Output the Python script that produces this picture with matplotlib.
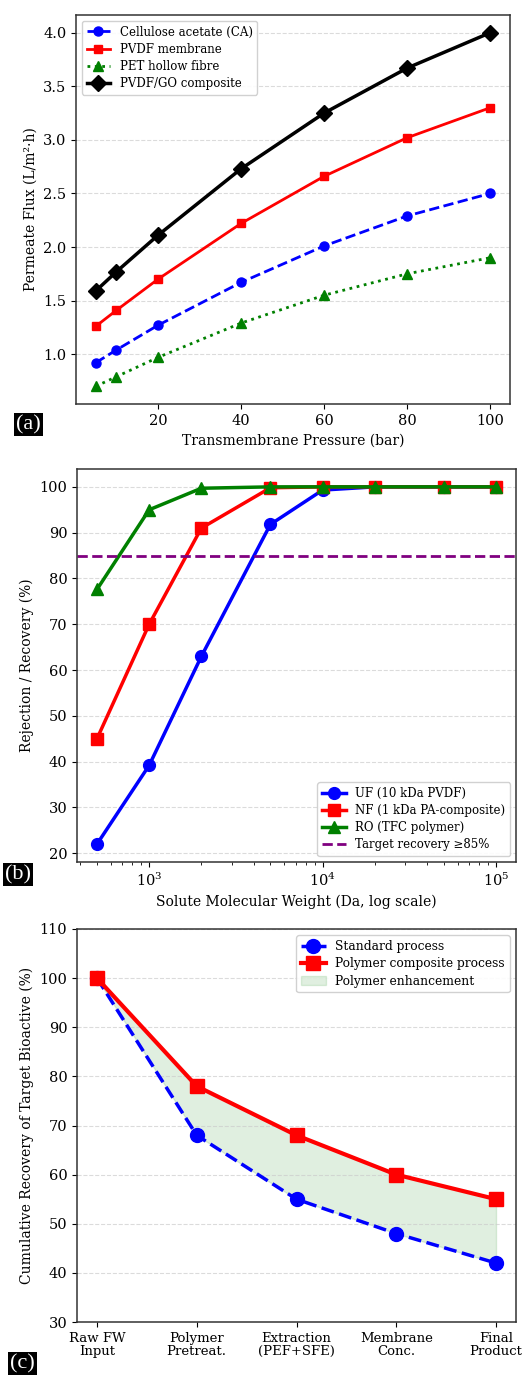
import numpy as np
import matplotlib.pyplot as plt

plt.rcParams['font.family'] = 'DejaVu Serif'

# (a) flux vs pressure
pressure = [5, 10, 20, 40, 60, 80, 100]
flux_ca = [0.92, 1.04, 1.27, 1.67, 2.01, 2.29, 2.50]
flux_pvdf = [1.26, 1.41, 1.70, 2.22, 2.66, 3.02, 3.30]
flux_pet = [0.70, 0.79, 0.97, 1.29, 1.55, 1.75, 1.90]
flux_go = [1.59, 1.77, 2.11, 2.73, 3.25, 3.67, 4.00]

# (b) rejection vs molecular weight
mw = [500, 1000, 2000, 5000, 10000, 20000, 50000, 100000]
rej_uf = [22, 39.2, 63, 91.8, 99.3, 100, 100, 100]
rej_nf = [45, 70, 91, 99.8, 100, 100, 100, 100]
rej_ro = [77.6, 95, 99.7, 100, 100, 100, 100, 100]
target = 85

# (c) cumulative recovery
stages = ['Raw FW\nInput', 'Polymer\nPretreat.', 'Extraction\n(PEF+SFE)', 'Membrane\nConc.', 'Final\nProduct']
rec_std = [100, 68, 55, 48, 42]
rec_poly = [100, 78, 68, 60, 55]

W, H = 528, 1379
fig = plt.figure(figsize=(W / 100, H / 100), dpi=100)

def box(l, t, r, b):
    return [l / W, 1 - b / H, (r - l) / W, (b - t) / H]

def style(ax):
    for s in ax.spines.values():
        s.set_color('#333333')
        s.set_linewidth(1.1)
    ax.grid(axis='y', linestyle='--', color='#cccccc', alpha=0.7, linewidth=0.8)
    ax.tick_params(labelsize=10.5)

# panel a
ax1 = fig.add_axes(box(76, 15, 510, 404))
ax1.plot(pressure, flux_ca, 'o--', color='blue', lw=2, ms=6.5, label='Cellulose acetate (CA)')
ax1.plot(pressure, flux_pvdf, 's-', color='red', lw=2, ms=6, label='PVDF membrane')
ax1.plot(pressure, flux_pet, '^:', color='green', lw=2, ms=6.5, label='PET hollow fibre')
ax1.plot(pressure, flux_go, 'D-', color='black', lw=2.5, ms=8, label='PVDF/GO composite')
ax1.set_xlabel('Transmembrane Pressure (bar)', fontsize=10)
ax1.set_ylabel('Permeate Flux (L/m²·h)', fontsize=10)
ax1.set_xticks([20, 40, 60, 80, 100])
style(ax1)
ax1.legend(loc='upper left', fontsize=8.5, framealpha=0.9, edgecolor='#cccccc',
           handlelength=2, labelspacing=0.35)

# panel b
ax2 = fig.add_axes(box(77, 469, 516, 862))
ax2.semilogx(mw, rej_uf, 'o-', color='blue', lw=2.5, ms=8.5, label='UF (10 kDa PVDF)')
ax2.semilogx(mw, rej_nf, 's-', color='red', lw=2.5, ms=8.5, label='NF (1 kDa PA-composite)')
ax2.semilogx(mw, rej_ro, '^-', color='green', lw=2.5, ms=8.5, label='RO (TFC polymer)')
ax2.axhline(target, color='purple', ls='--', lw=2, label='Target recovery ≥85%')
ax2.set_xlabel('Solute Molecular Weight (Da, log scale)', fontsize=10)
ax2.set_ylabel('Rejection / Recovery (%)', fontsize=10)
style(ax2)
ax2.legend(loc='lower right', fontsize=8.5, framealpha=0.9, edgecolor='#cccccc',
           handlelength=2, labelspacing=0.35)

# panel c
ax3 = fig.add_axes(box(77, 929, 516, 1322))
x = np.arange(len(stages))
ax3.plot(x, rec_std, 'o--', color='blue', lw=2.5, ms=10, label='Standard process')
ax3.plot(x, rec_poly, 's-', color='red', lw=3, ms=10, label='Polymer composite process')
ax3.fill_between(x, rec_std, rec_poly, color='green', alpha=0.12, label='Polymer enhancement')
ax3.set_xticks(x)
ax3.set_xticklabels(stages, linespacing=1.0)
ax3.set_ylim(30, 110)
ax3.set_ylabel('Cumulative Recovery of Target Bioactive (%)', fontsize=10)
style(ax3)
ax3.tick_params(axis='x', labelsize=9.5)
ax3.legend(loc='upper right', fontsize=8.8, framealpha=0.9, edgecolor='#cccccc',
           handlelength=2, labelspacing=0.35)

# panel tags
for lab, px, py in [('(a)', 14, 440), ('(b)', 3, 890), ('(c)', 8, 1379)]:
    fig.text(px / W + 0.004, 1 - py / H + 0.004, lab, color='white', fontsize=16,
             family='Liberation Serif', ha='left', va='bottom',
             bbox=dict(facecolor='black', edgecolor='none', pad=1.5))

fig.savefig('out.png', dpi=100)
